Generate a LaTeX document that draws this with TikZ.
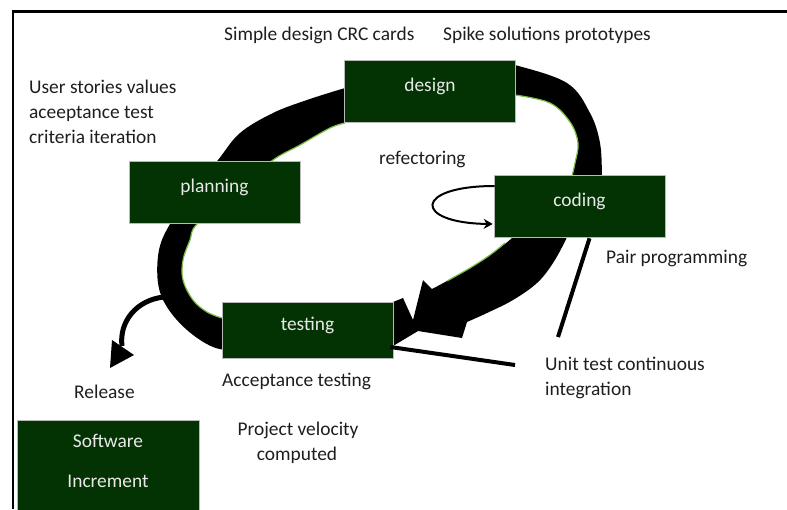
\documentclass[tikz,border=0pt]{standalone}
\usepackage{fontspec}
\setmainfont{Carlito}
\usetikzlibrary{arrows.meta,calc}
\definecolor{boxgreen}{RGB}{3,51,3}
\definecolor{fringe}{RGB}{120,190,70}
\definecolor{ink}{RGB}{30,30,30}
\definecolor{boxink}{RGB}{232,232,232}
\begin{document}
\begin{tikzpicture}[x=1pt,y=-1pt,
  txt/.style={font=\fontsize{19.4}{24}\selectfont},
  stagebox/.style={txt, draw=gray!55, line width=0.6, fill=boxgreen, text=boxink,
    minimum width=171, minimum height=62, inner sep=0, text height=8, text depth=8},
  lbl/.style={txt, text=ink, inner sep=0, anchor=base west},
  boxlbl/.style={txt, text=boxink, inner sep=0, anchor=base},
  cenlbl/.style={txt, text=ink, inner sep=0, anchor=base},
  band/.style={fill=black},
  rim/.style={draw=fringe, line width=1.2},
  lead/.style={draw=black, line width=4},
]
\useasboundingbox (0,0) rectangle (787,509);
\clip (0,0) rectangle (787,509);

% outer frame (top and left sides)
\draw[line width=2.5] (13,509) -- (13,11.5) -- (787,11.5);

% --- the thick cycle band ---
% left arc: design -> planning -> testing
\fill[band] plot[smooth, tension=0.6] coordinates {(360,84) (345,88) (307,100) (273,113) (240,133) (218,160) (192,192) (170,224) (159,250) (158,283) (167,307) (187,330) (213,347) (240,352)}
  -- plot[smooth, tension=0.6] coordinates {(240,318) (222,318) (207,312) (193,300) (183,280) (183,260) (190,240) (197,224) (235,190) (273,160) (300,145) (330,128) (345,123) (360,121)}
  -- cycle;
\draw[rim] plot[smooth, tension=0.6] coordinates {(222,318) (207,312) (193,300) (183,280) (183,260) (190,240) (197,224) (235,190) (273,160) (300,145) (330,128) (345,123)};

% right arc: design -> coding
\fill[band] plot[smooth, tension=0.6] coordinates {(505,65) (515,65) (567,83) (590,113) (600,143) (602,176) (602,185)}
  -- plot[smooth, tension=0.6] coordinates {(572,185) (572,176) (575,163) (578,143) (570,122) (550,103) (515,95) (505,95)}
  -- cycle;
\draw[rim] plot[smooth, tension=0.6] coordinates {(572,176) (575,163) (578,143) (570,122) (550,103) (515,95)};

% block arrow: coding -> testing
\fill[band] plot[smooth, tension=0.6] coordinates {(513,230) (513,237) (490,255) (470,268) (447,281) (432,289)}
  -- (423,280) -- (413,320) -- (403,298) -- (393,302) -- (393,346) -- (418,331) -- (462,338)
  -- plot[smooth, tension=0.6] coordinates {(467,322) (487,313) (513,300) (537,283) (553,263) (567,237) (567,230)}
  -- cycle;
\draw[rim] plot[smooth, tension=0.6] coordinates {(505,243) (490,255) (470,268) (447,281)};

% release arrow leaving the cycle
\draw[line width=5] (164,297) .. controls (136,300) and (119,322) .. (122,346);
\fill (112,340) -- (134,355) -- (110,368) -- cycle;

% --- stage boxes ---
\node[stagebox] (design)   at (430,91)    {design};
\node[stagebox] (planning) at (214.5,192.5) {planning};
\node[stagebox] (coding)   at (579.5,206) {coding};
\node[stagebox, minimum height=56] (testing) at (307.5,330) {testing};
\node[stagebox, minimum width=182, minimum height=100, anchor=north west] (software) at (17,420) {};
\node[boxlbl] (sw1) at (108,447) {Software};
\node[boxlbl] (sw2) at (108,487) {Increment};

% refactoring loop on coding
\draw[line width=2, -{Stealth[length=9,width=10]}]
  ([xshift=1,yshift=20]coding.west) .. controls (413,186) and (413,223) .. ([xshift=-1,yshift=-18]coding.west);

% --- labels ---
\node[lbl] (crc)   at (224,40)  {Simple design CRC cards};
\node[lbl] (spike) at (443,40)  {Spike solutions prototypes};
\node[lbl] (us1)   at (29,93)   {User stories values};
\node[lbl] (us2)   at (29,118)  {aceeptance test};
\node[lbl] (us3)   at (29,143)  {criteria iteration};
\node[lbl] (refac) at (379,164) {refectoring};
\node[lbl] (pair)  at (606,263) {Pair programming};
\node[lbl] (unit1) at (545,370) {Unit test continuous};
\node[lbl] (unit2) at (545,395) {integration};
\node[lbl] (acc)   at (222,386) {Acceptance testing};
\node[lbl] (rel)   at (74,398)  {Release};
\node[cenlbl] (vel1) at (298,435) {Project velocity};
\node[cenlbl] (vel2) at (297,460) {computed};

% leader lines
\coordinate (ppend) at (558,337);
\coordinate (utend) at (515,365);
\draw[lead] ([xshift=10,yshift=-1]coding.south) -- (ppend);
\draw[lead] ([xshift=-3,yshift=-17]testing.east) -- (utend);
\end{tikzpicture}
\end{document}
